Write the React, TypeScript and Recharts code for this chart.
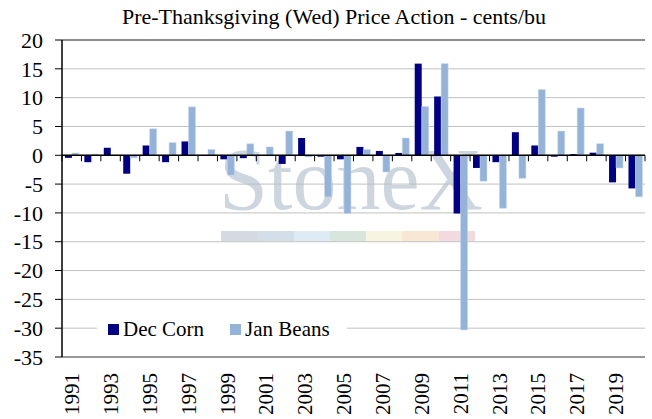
import { BarChart, Bar, XAxis, YAxis, CartesianGrid, ReferenceLine, Legend } from "recharts"

const years = [
  "1991", "1992", "1993", "1994", "1995", "1996", "1997", "1998", "1999", "2000",
  "2001", "2002", "2003", "2004", "2005", "2006", "2007", "2008", "2009", "2010",
  "2011", "2012", "2013", "2014", "2015", "2016", "2017", "2018", "2019", "2020",
]
const decCorn = [
  -0.45, -1.2, 1.3, -3.2, 1.7, -1.2, 2.4, 0, -0.7, -0.5,
  0, -1.5, 3.0, -0.25, -0.7, 1.45, 0.75, 0.4, 15.9, 10.2,
  -10.1, -2.2, -1.2, 4.0, 1.7, -0.25, 0.2, 0.45, -4.7, -5.75,
]
const janBeans = [
  0.4, 0.2, 0, -0.45, 4.6, 2.2, 8.4, 1.0, -3.45, 2.0,
  1.45, 4.2, -0.3, -7.2, -10.1, 1.0, -2.9, 3.0, 8.45, 15.9,
  -30.3, -4.5, -9.2, -4.0, 11.4, 4.2, 8.2, 2.0, -2.2, -7.2,
]
const yTicks = [-35, -30, -25, -20, -15, -10, -5, 0, 5, 10, 15, 20]

const W = 652
const H = 419
const MARGIN = { top: 40, right: 7, bottom: 0, left: 0 }
const Y_AXIS_W = 62
const X_AXIS_H = 62
const PLOT_W = W - MARGIN.left - MARGIN.right - Y_AXIS_W
const PLOT_H = H - MARGIN.top - MARGIN.bottom - X_AXIS_H
const Y_MIN = -35
const Y_MAX = 20
const ZERO_Y = MARGIN.top + (Y_MAX / (Y_MAX - Y_MIN)) * PLOT_H
const BAND = PLOT_W / years.length

const FONT = "'Times New Roman', 'Liberation Serif', Tinos, Times, serif"
const CORN = "#000080"
const BEANS = "#95b3d7"

const data = years.map((year, i) => ({ year, corn: decCorn[i], beans: janBeans[i] }))

function YearTick(props: any) {
  const { x, index, payload } = props
  const left = x - BAND / 2
  return (
    <g>
      <line x1={left} x2={left} y1={ZERO_Y} y2={ZERO_Y + 6} stroke="#000" />
      {index === years.length - 1 && (
        <line x1={left + BAND} x2={left + BAND} y1={ZERO_Y} y2={ZERO_Y + 6} stroke="#000" />
      )}
      {index % 2 === 0 && (
        <text
          transform={`translate(${x},${MARGIN.top + PLOT_H + 16}) rotate(-90)`}
          textAnchor="end"
          dy="0.35em"
          fontSize={21}
          style={{ fontFamily: FONT }}
          fill="#000"
        >
          {payload.value}
        </text>
      )}
    </g>
  )
}

function ValueTick(props: any) {
  const { x, y, payload } = props
  return (
    <text x={x} y={y} dy="0.35em" textAnchor="end" fontSize={22} style={{ fontFamily: FONT }} fill="#000">
      {payload.value}
    </text>
  )
}

function LegendBox() {
  const item = (color: string, label: string, gap: number) => (
    <span style={{ display: "inline-flex", alignItems: "center", marginRight: gap }}>
      <span style={{ width: 11, height: 11, background: color, marginRight: 4 }} />
      {label}
    </span>
  )
  return (
    <div
      style={{
        background: "#fff",
        fontFamily: FONT,
        fontSize: 21,
        lineHeight: "24px",
        paddingLeft: 11,
        display: "flex",
      }}
    >
      {item(CORN, "Dec Corn", 26)}
      {item(BEANS, "Jan Beans", 0)}
    </div>
  )
}

const stripColors = ["#d0d5dd", "#cfdbe6", "#dbe9f3", "#d3e3da", "#f7f5dc", "#f8e6cf", "#f2d7db"]

export default function App() {
  return (
    <div style={{ position: "absolute", left: 0, top: 0, width: W, height: H, background: "#fff" }}>
      <div
        style={{
          position: "absolute",
          left: 0,
          width: 668,
          top: 4,
          textAlign: "center",
          fontFamily: FONT,
          fontSize: 22,
          lineHeight: "26px",
        }}
      >
        Pre-Thanksgiving (Wed) Price Action - cents/bu
      </div>
      {/* watermark */}
      <div
        style={{
          position: "absolute",
          left: 219,
          top: 136,
          fontFamily: FONT,
          fontSize: 88,
          lineHeight: "88px",
          color: "#cdd5df",
        }}
      >
        StoneX
      </div>
      <div style={{ position: "absolute", left: 221, top: 231, display: "flex", opacity: 0.9 }}>
        {stripColors.map((c) => (
          <div key={c} style={{ width: 36.3, height: 10, background: c }} />
        ))}
      </div>
      <BarChart
        width={W}
        height={H}
        data={data}
        margin={MARGIN}
        barCategoryGap="15%"
        barGap={0}
      >
        <CartesianGrid vertical={false} stroke="#c0c0c0" />
        <XAxis
          dataKey="year"
          interval={0}
          height={X_AXIS_H}
          axisLine={false}
          tickLine={false}
          tick={<YearTick />}
        />
        <YAxis
          domain={[Y_MIN, Y_MAX]}
          ticks={yTicks}
          interval={0}
          width={Y_AXIS_W}
          axisLine={{ stroke: "#000", strokeWidth: 1.5 }}
          tickLine={{ stroke: "#000" }}
          tickSize={7}
          tickMargin={12}
          tick={<ValueTick />}
        />
        <YAxis
          yAxisId="border"
          orientation="right"
          width={0}
          tick={false}
          tickLine={false}
          axisLine={{ stroke: "#8c8c8c", strokeWidth: 2 }}
        />
        <ReferenceLine y={Y_MAX} stroke="#8c8c8c" strokeWidth={2} />
        <ReferenceLine y={Y_MIN} stroke="#808080" strokeWidth={1.5} />
        <Legend
          layout="horizontal"
          verticalAlign="middle"
          align="center"
          content={<LegendBox />}
          wrapperStyle={{ left: 97, top: 317, width: 250, bottom: "auto" }}
        />
        <Bar dataKey="corn" name="Dec Corn" fill={CORN} isAnimationActive={false} />
        <Bar dataKey="beans" name="Jan Beans" fill={BEANS} stroke="#c6d8ee" strokeWidth={0.5} isAnimationActive={false} />
        <ReferenceLine y={0} stroke="#000" strokeWidth={1.5} />
      </BarChart>
    </div>
  )
}
